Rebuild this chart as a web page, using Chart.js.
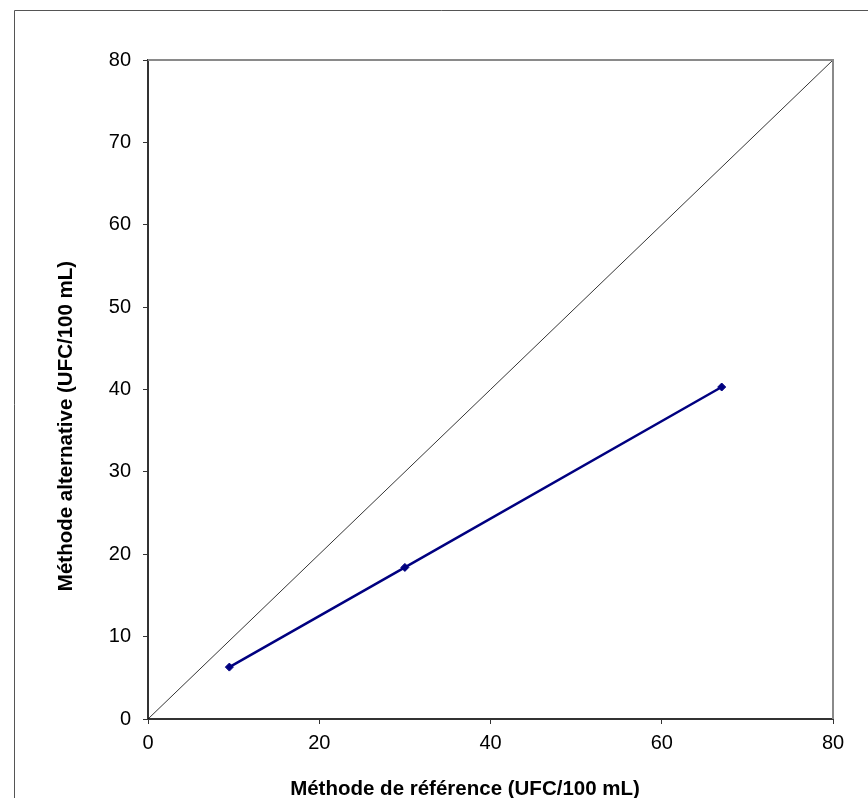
<!DOCTYPE html>
<html>
<head>
<meta charset="utf-8">
<script src="https://cdn.jsdelivr.net/npm/chart.js@4/dist/chart.umd.min.js"></script>
<style>
  html, body { margin: 0; padding: 0; background: #fff; }
  #wrap { width: 868px; height: 798px; position: relative; }
</style>
</head>
<body>
<div id="wrap"><canvas id="c" width="868" height="798"></canvas></div>
<script>
// Data
const refValues = [9.5, 30, 67];          // Méthode de référence (UFC/100 mL)
const altValues = [6.3, 18.4, 40.3];      // Méthode alternative (UFC/100 mL)
const identityX = [0, 80];                // y = x reference line
const identityY = [0, 80];
const xTicks = [0, 20, 40, 60, 80];
const yTicks = [0, 10, 20, 30, 40, 50, 60, 70, 80];
const xTitle = 'Méthode de référence (UFC/100 mL)';
const yTitle = 'Méthode alternative (UFC/100 mL)';

const FONT = '"Liberation Sans", Arial, sans-serif';

const framePlugin = {
  id: 'frame',
  beforeDraw(chart) {
    const ctx = chart.ctx;
    ctx.save();
    ctx.fillStyle = '#fff';
    ctx.fillRect(0, 0, chart.width, chart.height);
    ctx.strokeStyle = '#555';
    ctx.lineWidth = 1;
    ctx.beginPath();
    ctx.moveTo(14.5, 820);
    ctx.lineTo(14.5, 10.5);
    ctx.lineTo(880, 10.5);
    ctx.stroke();
    ctx.restore();
  },
  afterDatasetsDraw(chart) {
    const ctx = chart.ctx;
    const a = chart.chartArea;
    ctx.save();
    // top & right plot border (gray)
    ctx.strokeStyle = '#8a8a8a';
    ctx.lineWidth = 2;
    ctx.beginPath();
    ctx.moveTo(a.left, a.top);
    ctx.lineTo(a.right, a.top);
    ctx.lineTo(a.right, a.bottom);
    ctx.stroke();
    // titles
    ctx.fillStyle = '#000';
    ctx.font = 'bold 20.5px ' + FONT;
    ctx.textAlign = 'center';
    ctx.textBaseline = 'middle';
    ctx.fillText(xTitle, 465, 789);
    ctx.translate(66, 426);
    ctx.rotate(-Math.PI / 2);
    ctx.fillText(yTitle, 0, 0);
    ctx.restore();
  }
};

new Chart(document.getElementById('c'), {
  type: 'scatter',
  data: {
    datasets: [
      {
        label: 'y = x',
        data: identityX.map((x, i) => ({ x, y: identityY[i] })),
        showLine: true,
        borderColor: '#000',
        borderWidth: 0.8,
        pointRadius: 0,
        order: 2
      },
      {
        label: 'Méthode alternative',
        data: refValues.map((x, i) => ({ x, y: altValues[i] })),
        showLine: true,
        borderColor: '#000080',
        backgroundColor: '#000080',
        borderWidth: 2.5,
        pointStyle: 'rectRot',
        pointRadius: 4,
        pointBorderWidth: 1,
        order: 1
      }
    ]
  },
  options: {
    responsive: false,
    animation: false,
    layout: { padding: { left: 0, top: 60, right: 35, bottom: 0 } },
    plugins: {
      legend: { display: false },
      tooltip: { enabled: false }
    },
    scales: {
      x: {
        type: 'linear',
        min: 0, max: 80,
        afterBuildTicks: s => { s.ticks = xTicks.map(v => ({ value: v })); },
        afterFit: s => { s.height = 79; },
        ticks: { font: { family: FONT, size: 20 }, color: '#000', padding: 7, maxRotation: 0 },
        grid: { drawOnChartArea: false, drawTicks: true, tickLength: 5, color: '#333', lineWidth: 1 },
        border: { color: '#333', width: 2 },
        title: { display: false }
      },
      y: {
        type: 'linear',
        min: 0, max: 80,
        afterBuildTicks: s => { s.ticks = yTicks.map(v => ({ value: v })); },
        afterFit: s => { s.width = 148; },
        ticks: { font: { family: FONT, size: 20 }, color: '#000', padding: 12 },
        grid: { drawOnChartArea: false, drawTicks: true, tickLength: 5, color: '#333', lineWidth: 1 },
        border: { color: '#333', width: 2 },
        title: { display: false }
      }
    }
  },
  plugins: [framePlugin]
});
</script>
</body>
</html>
